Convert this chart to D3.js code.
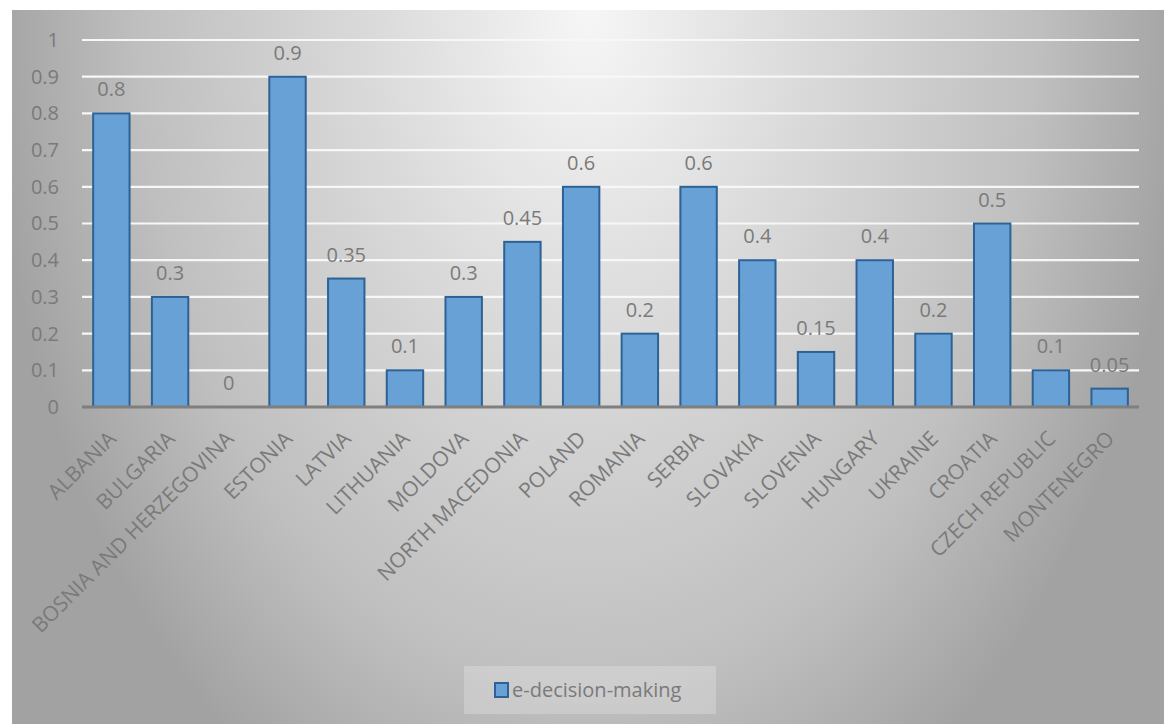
<!DOCTYPE html>
<html><head><meta charset="utf-8">
<script src="https://cdn.jsdelivr.net/npm/d3@7"></script>
<style>body{margin:0;background:#fff;}svg{display:block;}</style>
</head><body>
<svg id="c" width="1164" height="724"></svg>
<script>
const categories = ["ALBANIA","BULGARIA","BOSNIA AND HERZEGOVINA","ESTONIA","LATVIA","LITHUANIA","MOLDOVA","NORTH MACEDONIA","POLAND","ROMANIA","SERBIA","SLOVAKIA","SLOVENIA","HUNGARY","UKRAINE","CROATIA","CZECH REPUBLIC","MONTENEGRO"];
const values = [0.8,0.3,0,0.9,0.35,0.1,0.3,0.45,0.6,0.2,0.6,0.4,0.15,0.4,0.2,0.5,0.1,0.05];
const yTicks = [0,0.1,0.2,0.3,0.4,0.5,0.6,0.7,0.8,0.9,1];
const seriesName = "e-decision-making";

const svg = d3.select("#c");
const defs = svg.append("defs");
const g = defs.append("radialGradient").attr("id","bg")
  .attr("gradientUnits","userSpaceOnUse").attr("cx",588).attr("cy",15).attr("r",600)
  .attr("gradientTransform","translate(588,15) scale(1,1.5) translate(-588,-15)");
g.append("stop").attr("offset","0%").attr("stop-color","#f6f6f6");
g.append("stop").attr("offset","35%").attr("stop-color","#dbdbdb");
g.append("stop").attr("offset","75%").attr("stop-color","#bfbfbf");
g.append("stop").attr("offset","100%").attr("stop-color","#a2a2a2");

svg.append("rect").attr("x",12).attr("y",10).attr("width",1152).attr("height",714).attr("fill","url(#bg)");

const x = d3.scaleBand().domain(categories).range([82,1139]).paddingInner(0.38).paddingOuter(0.19);
const y = d3.scaleLinear().domain([0,1]).range([407,40]);

const font = "'Open Sans', 'Noto Sans', sans-serif";
const grey = "#7a7a7a";

// gridlines
svg.append("g").selectAll("line").data(yTicks.filter(d=>d>0)).join("line")
  .attr("x1",82).attr("x2",1139).attr("y1",d=>y(d)).attr("y2",d=>y(d))
  .attr("stroke","#f7f7f7").attr("stroke-width",2.2);

// y axis labels
const yAxis = d3.axisLeft(y).tickValues(yTicks).tickSize(0).tickPadding(0).tickFormat(d=>String(d));
const ya = svg.append("g").attr("transform","translate(59,0)").call(yAxis);
ya.select(".domain").remove();
ya.selectAll("text").attr("fill",grey).style("font-family",font).style("font-size","20px");

// bars
svg.append("g").selectAll("rect").data(values).join("rect")
  .attr("x",(d,i)=>x(categories[i])).attr("width",x.bandwidth())
  .attr("y",d=>y(d)).attr("height",d=>y(0)-y(d))
  .attr("fill","#67a1d6").attr("stroke","#2e6194").attr("stroke-width",2);

// data labels
svg.append("g").selectAll("text").data(values).join("text")
  .attr("x",(d,i)=>x(categories[i])+x.bandwidth()/2).attr("y",d=>y(d)-17)
  .attr("text-anchor","middle").attr("fill",grey)
  .style("font-family",font).style("font-size","20px").text(d=>String(d));

// x axis
const xAxis = d3.axisBottom(x).tickSize(0).tickPadding(0);
const xa = svg.append("g").attr("transform","translate(0,407)").call(xAxis);
xa.select(".domain").attr("stroke","#7f7f7f").attr("stroke-width",3).attr("d","M82,0H1139");
xa.selectAll("text").attr("fill",grey).style("font-family",font).style("font-size","21px")
  .attr("text-anchor","end").attr("dy",null).attr("y",0)
  .attr("transform","translate(6,33) rotate(-45)");

// legend
const lg = svg.append("g");
lg.append("rect").attr("x",464).attr("y",666).attr("width",252).attr("height",48).attr("fill","#ffffff").attr("fill-opacity",0.22);
lg.append("rect").attr("x",495).attr("y",683).attr("width",13).attr("height",14).attr("fill","#67a1d6").attr("stroke","#2e6194").attr("stroke-width",2);
lg.append("text").attr("x",512).attr("y",697).attr("fill",grey).style("font-family",font).style("font-size","20px").text(seriesName);
</script>
</body></html>
